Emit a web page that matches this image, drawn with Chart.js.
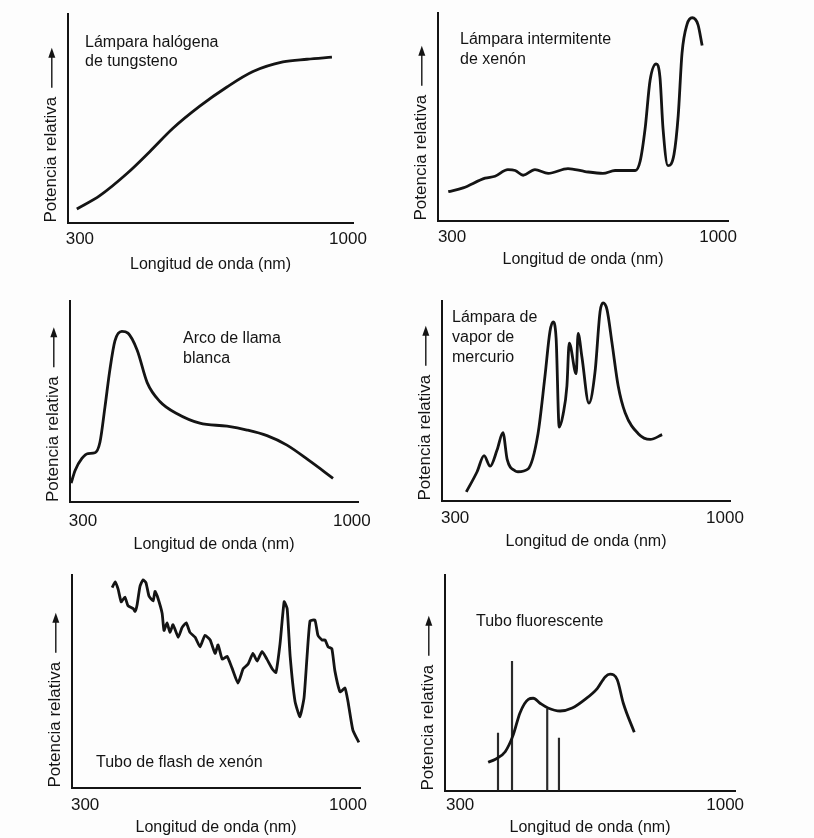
<!DOCTYPE html>
<html lang="es">
<head>
<meta charset="utf-8">
<title>Espectros de fuentes de luz</title>
<script src="https://cdn.jsdelivr.net/npm/chart.js@4.4.1/dist/chart.umd.min.js"></script>
<style>
    html, body { margin: 0; padding: 0; background: #fdfdfd; }
    #page { position: relative; width: 814px; height: 838px; overflow: hidden; }
    .panel { position: absolute; }
</style>
</head>
<body>
<div id="page">
    <div class="panel" style="left:0px;top:0px;width:407px;height:282px"><canvas id="chartHalogena"></canvas></div>
    <div class="panel" style="left:407px;top:0px;width:407px;height:282px"><canvas id="chartIntermitente"></canvas></div>
    <div class="panel" style="left:0px;top:282px;width:407px;height:278px"><canvas id="chartArco"></canvas></div>
    <div class="panel" style="left:407px;top:282px;width:407px;height:278px"><canvas id="chartMercurio"></canvas></div>
    <div class="panel" style="left:0px;top:560px;width:407px;height:278px"><canvas id="chartFlash"></canvas></div>
    <div class="panel" style="left:407px;top:560px;width:407px;height:278px"><canvas id="chartFluorescente"></canvas></div>
</div>
<script>
const TICKS_X = [300, 1000];
const TITULO_X = 'Longitud de onda (nm)';
const TITULO_Y = 'Potencia relativa';

// Lámpara halógena de tungsteno
const halogenaNm = [292, 352, 423, 483, 543, 613, 684, 752, 830, 893, 958];
const halogenaPot = [6.5, 12.9, 23.5, 34.1, 45.2, 55.8, 65.0, 72.4, 77.0, 78.3, 79.3];

// Lámpara intermitente de xenón
const intermitenteNm = [290, 329, 387, 413, 447, 466, 487, 518, 553, 605, 650, 697, 729, 782, 795, 808, 821, 837, 847, 855, 868, 884, 895, 905, 918, 932, 947, 958];
const intermitentePot = [13.9, 15.7, 20.4, 21.3, 24.5, 24.1, 21.8, 24.5, 22.7, 25.0, 23.6, 22.7, 24.1, 24.1, 28.7, 44.4, 67.6, 75.5, 69.0, 44.4, 26.4, 31.9, 50.5, 80.6, 94.4, 97.7, 94.4, 84.3];

// Arco de llama blanca
const arcoNm = [269, 279, 297, 313, 331, 344, 357, 370, 383, 401, 417, 441, 467, 500, 545, 604, 675, 727, 779, 831, 891, 951];
const arcoPot = [9.4, 15.6, 21.7, 24.1, 24.5, 29.7, 47.2, 66.0, 80.2, 84.9, 84.0, 75.5, 59.4, 50.0, 43.9, 39.2, 37.7, 35.8, 33.0, 28.3, 20.3, 11.8];

// Lámpara de vapor de mercurio
const mercurioNm = [329, 357, 375, 391, 409, 424, 435, 456, 463, 489, 515, 533, 546, 554, 562, 570, 580, 590, 596, 614, 619, 629, 647, 663, 676, 684, 694, 707, 723, 741, 775, 806, 837];
const mercurioPot = [4.3, 14.4, 22.5, 17.2, 25.4, 34.0, 20.6, 14.8, 14.4, 15.8, 33.5, 62.2, 84.7, 89.5, 81.3, 36.8, 43.1, 57.4, 78.9, 63.6, 83.7, 71.8, 48.8, 64.6, 94.7, 99.0, 95.7, 78.9, 57.4, 44.0, 33.5, 30.6, 33.0];

// Tubo de flash de xenón
const flashNm = [372, 380, 388, 396, 406, 414, 428, 433, 438, 446, 454, 462, 470, 481, 486, 492, 505, 510, 518, 526, 534, 548, 558, 569, 579, 593, 606, 619, 633, 646, 654, 665, 678, 691, 707, 721, 734, 747, 758, 771, 784, 798, 808, 819, 830, 838, 846, 859, 872, 883, 891, 899, 912, 920, 931, 939, 947, 957, 965, 979, 992, 1000, 1013, 1029];
const flashPot = [94.1, 96.8, 93.2, 87.4, 89.6, 85.6, 84.2, 82.9, 85.6, 94.6, 97.7, 96.4, 90.1, 87.8, 92.3, 90.1, 82.0, 73.9, 77.5, 73.0, 76.6, 70.7, 75.2, 77.5, 73.0, 70.7, 66.2, 71.6, 69.4, 63.1, 67.1, 60.4, 61.7, 56.3, 49.1, 55.9, 58.1, 63.1, 59.5, 64.0, 60.4, 55.9, 54.1, 67.6, 87.4, 84.2, 61.7, 40.5, 33.3, 42.3, 61.7, 78.4, 78.8, 71.6, 69.4, 69.4, 66.2, 65.3, 55.0, 45.0, 46.8, 40.5, 27.0, 21.2];

// Tubo fluorescente: continuo + líneas del mercurio
const fluorescenteNm = [374, 392, 419, 440, 458, 480, 493, 511, 532, 564, 596, 630, 662, 683, 696, 715, 731, 760];
const fluorescentePot = [13.1, 14.4, 18.0, 25.7, 36.0, 42.3, 42.8, 40.5, 38.3, 36.9, 38.3, 42.3, 47.3, 52.7, 54.0, 51.4, 40.5, 27.0];
const lineasNm = [400, 437, 530, 561];
const lineasPot = [26.6, 59.9, 37.8, 24.3];

const TINTA = '#141414';
Chart.defaults.font.family = '"Liberation Sans", Arial, Helvetica, sans-serif';
Chart.defaults.color = TINTA;

function puntos(xs, ys) {
    return xs.map((x, i) => ({ x: x, y: ys[i] }));
}

// flecha que acompaña al título del eje y
const flechaEje = {
    id: 'flechaEje',
    afterDraw(chart) {
        const eje = chart.scales.y;
        const titulo = eje.options.title;
        const font = Chart.helpers.toFont(titulo.font);
        const ctx = chart.ctx;
        ctx.save();
        ctx.font = font.string;
        const ancho = ctx.measureText(titulo.text).width;
        const x = eje.left + font.lineHeight / 2;
        const base = chart.chartArea.bottom - ancho - 9;
        const punta = base - 40;
        ctx.strokeStyle = TINTA;
        ctx.fillStyle = TINTA;
        ctx.lineWidth = 1.4;
        ctx.beginPath();
        ctx.moveTo(x, base);
        ctx.lineTo(x, punta + 8);
        ctx.stroke();
        ctx.beginPath();
        ctx.moveTo(x, punta);
        ctx.lineTo(x - 3.5, punta + 10);
        ctx.lineTo(x + 3.5, punta + 10);
        ctx.closePath();
        ctx.fill();
        ctx.restore();
    }
};

// rótulo con el nombre de la fuente, dentro del área del gráfico
const rotulo = {
    id: 'rotulo',
    afterDraw(chart, args, opts) {
        if (!opts.lineas) return;
        const ctx = chart.ctx;
        const area = chart.chartArea;
        ctx.save();
        ctx.font = '16px "Liberation Sans", Arial, sans-serif';
        ctx.fillStyle = TINTA;
        ctx.textBaseline = 'middle';
        opts.lineas.forEach((linea, i) => {
            ctx.fillText(linea, area.left + opts.dx, area.top + opts.dy + i * opts.salto);
        });
        ctx.restore();
    }
};

function relleno(p) {
    const anchoEjeY = 17 * 1.2 + 6;
    const altoEjeX = p.tickPad + 17 + p.tituloPad + 16;
    return {
        left: p.ejeIzq - p.x - anchoEjeY,
        right: p.x + 407 - p.ejeDer,
        top: p.ejeSup - p.y,
        bottom: p.y + p.h - p.ejeInf - altoEjeX
    };
}

function crearEspectro(id, datasets, p) {
    return new Chart(document.getElementById(id).getContext('2d'), {
        type: 'line',
        data: { datasets: datasets },
        plugins: [flechaEje, rotulo],
        options: {
            responsive: true,
            maintainAspectRatio: false,
            devicePixelRatio: 1,
            animation: false,
            events: [],
            layout: { padding: relleno(p) },
            plugins: {
                legend: { display: false },
                tooltip: { enabled: false },
                rotulo: p.rotulo
            },
            scales: {
                x: {
                    type: 'linear',
                    min: p.min,
                    max: p.max,
                    offset: false,
                    afterBuildTicks: axis => {
                        axis.ticks = TICKS_X.map(v => ({ value: v }));
                    },
                    grid: { display: false, drawTicks: false, offset: false },
                    border: { display: true, color: TINTA, width: 2 },
                    ticks: {
                        padding: p.tickPad,
                        maxRotation: 0,
                        autoSkip: false,
                        font: { size: 17, lineHeight: 1 },
                        callback: v => String(v)
                    },
                    title: {
                        display: true,
                        text: TITULO_X,
                        font: { size: 16, lineHeight: 1 },
                        padding: { top: p.tituloPad, bottom: 0 }
                    }
                },
                y: {
                    type: 'linear',
                    min: 0,
                    max: 100,
                    grid: { display: false, drawTicks: false },
                    border: { display: true, color: TINTA, width: 2 },
                    ticks: { display: false },
                    title: {
                        display: true,
                        text: TITULO_Y,
                        align: 'start',
                        font: { size: 17, lineHeight: 1.2 },
                        padding: { top: 0, bottom: 6 }
                    }
                }
            }
        }
    });
}

function curva(nm, pot, extra) {
    return Object.assign({
        data: puntos(nm, pot),
        borderColor: TINTA,
        borderWidth: 2.8,
        pointRadius: 0,
        fill: false,
        clip: false,
        cubicInterpolationMode: 'monotone'
    }, extra || {});
}

const chartHalogena = crearEspectro('chartHalogena', [curva(halogenaNm, halogenaPot)], {
    x: 0, y: 0, h: 282, ejeIzq: 68, ejeDer: 353, ejeSup: 14, ejeInf: 231,
    tickPad: 8.5, tituloPad: 0.5, min: 269, max: 1013,
    rotulo: { lineas: ['Lámpara halógena', 'de tungsteno'], dx: 17, dy: 29, salto: 18.5 }
});

const chartIntermitente = crearEspectro('chartIntermitente', [curva(intermitenteNm, intermitentePot)], {
    x: 407, y: 0, h: 282, ejeIzq: 438, ejeDer: 728, ejeSup: 13, ejeInf: 229,
    tickPad: 8.5, tituloPad: -3, min: 263, max: 1026,
    rotulo: { lineas: ['Lámpara intermitente', 'de xenón'], dx: 22, dy: 27, salto: 20 }
});

const chartArco = crearEspectro('chartArco', [curva(arcoNm, arcoPot)], {
    x: 0, y: 282, h: 278, ejeIzq: 70, ejeDer: 358, ejeSup: 301, ejeInf: 513,
    tickPad: 11, tituloPad: -4, min: 266, max: 1016,
    rotulo: { lineas: ['Arco de llama', 'blanca'], dx: 113, dy: 38, salto: 20 }
});

const chartMercurio = crearEspectro('chartMercurio', [curva(mercurioNm, mercurioPot)], {
    x: 407, y: 282, h: 278, ejeIzq: 442, ejeDer: 730, ejeSup: 301, ejeInf: 510,
    tickPad: 9.5, tituloPad: -2.5, min: 266, max: 1013,
    rotulo: { lineas: ['Lámpara de', 'vapor de', 'mercurio'], dx: 10, dy: 17, salto: 20 }
});

const chartFlash = crearEspectro('chartFlash', [curva(flashNm, flashPot, { cubicInterpolationMode: 'default', tension: 0.15 })], {
    x: 0, y: 560, h: 278, ejeIzq: 72, ejeDer: 360, ejeSup: 575, ejeInf: 797,
    tickPad: 9.5, tituloPad: -3.5, min: 265, max: 1032,
    rotulo: { lineas: ['Tubo de flash de xenón'], dx: 24, dy: 188, salto: 20 }
});

const chartFluorescente = crearEspectro('chartFluorescente', [
    curva(fluorescenteNm, fluorescentePot),
    {
        type: 'bar',
        data: puntos(lineasNm, lineasPot),
        backgroundColor: '#2a2a2a',
        barThickness: 1.5,
        grouped: false
    }
], {
    x: 407, y: 560, h: 278, ejeIzq: 445, ejeDer: 735, ejeSup: 575, ejeInf: 797,
    tickPad: 6.5, tituloPad: -0.5, min: 260, max: 1026,
    rotulo: { lineas: ['Tubo fluorescente'], dx: 31, dy: 47, salto: 20 }
});
</script>
</body>
</html>
